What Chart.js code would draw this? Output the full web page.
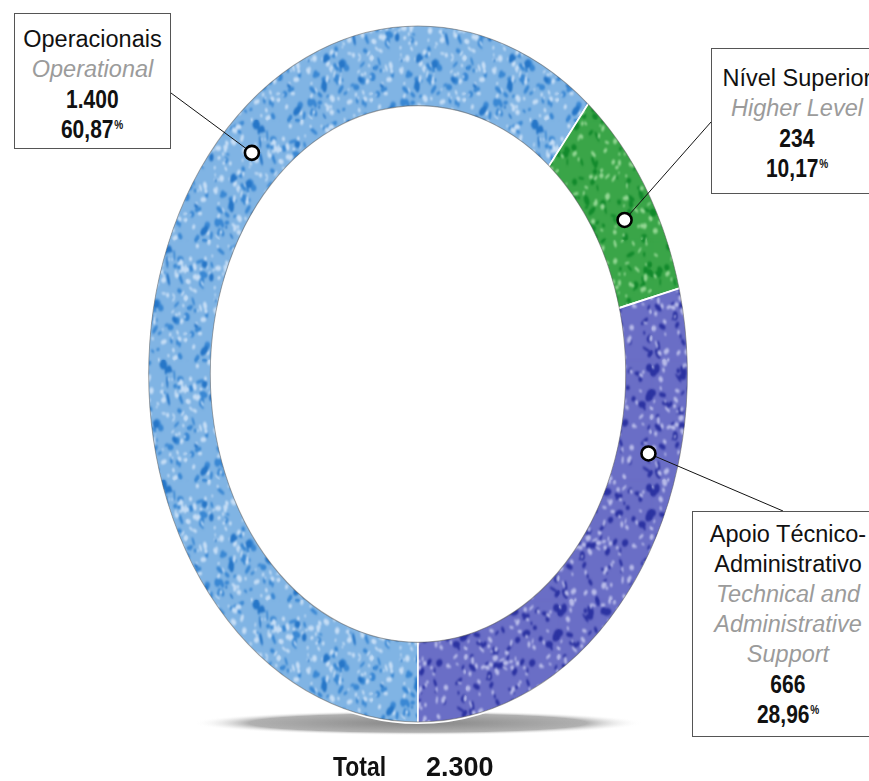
<!DOCTYPE html>
<html>
<head>
<meta charset="utf-8">
<script src="https://cdn.jsdelivr.net/npm/chart.js@4.4.1/dist/chart.umd.min.js"></script>
<style>
  html, body { margin: 0; padding: 0; background: #fff; }
  #wrap { position: relative; width: 869px; height: 781px; overflow: hidden;
          font-family: "Liberation Sans", Arial, sans-serif; }
  #ring { position: absolute; left: 0; top: 0; }
  .box { position: absolute; box-sizing: border-box; border: 1.5px solid #555;
         background: #fff; text-align: center; }
  .box div { height: 30px; line-height: 30px; white-space: nowrap; }
  .pt { font-size: 23.5px; color: #111; }
  .en { font-size: 23.5px; color: #9b9b9b; font-style: italic; }
  .num { font-weight: bold; font-size: 25px; color: #111; }
  .num span.nb { display: inline-block; transform: scaleX(0.84); transform-origin: 50% 50%; }
  .pc { font-size: 12px; position: relative; top: -9px; margin-left: 1px; }
  .total { position: absolute; top: 754px; height: 27px; line-height: 27px;
           font-weight: bold; font-size: 27px; color: #111; white-space: nowrap;
           transform-origin: 0 50%; }
</style>
</head>
<body>
<div id="wrap">
  <canvas id="ring" width="869" height="781"></canvas>
</div>
<script>
// Staff by category
const categoriesPt = [['Operacionais'], ['Nível Superior'], ['Apoio Técnico-', 'Administrativo']];
const categoriesEn = [['Operational'], ['Higher Level'], ['Technical and', 'Administrative', 'Support']];
const headcount = [1400, 234, 666];
const totalCaption = 'Total';

// Ring geometry and callout styling
const SCALE_X = 0.774;            // horizontal squeeze of the ring
const ringColors = [
  { base: '#80b4e4', spots: [['#3a88d4', 70, 4.5], ['#c6def6', 120, 3], ['#2676c8', 18, 6]] },
  { base: '#3aa548', spots: [['#128a2c', 60, 5], ['#92d692', 80, 3]] },
  { base: '#6a6ec6', spots: [['#2c33a2', 70, 5], ['#b8bbe9', 90, 3]] }
];
const callouts = [
  { box: { left: 14, top: 13, width: 157, height: 136, padTop: 10 }, anchor: [171, 93],  along: 0.62 },
  { box: { left: 711, top: 48, width: 172, height: 146, padTop: 14 }, anchor: [711, 122], along: 0.57 },
  { box: { left: 692, top: 511, width: 192, height: 226, padTop: 7 }, anchor: [783, 511], along: 0.28 }
];

function fmtThousands(n) {
  return String(n).replace(/\B(?=(\d{3})+(?!\d))/g, '.');
}
function fmtShare(v, total) {
  return (v / total * 100).toFixed(2).replace('.', ',');
}

const total = headcount.reduce((a, b) => a + b, 0);
const wrap = document.getElementById('wrap');

// Label boxes
callouts.forEach((c, i) => {
  const el = document.createElement('div');
  el.className = 'box';
  Object.assign(el.style, {
    left: c.box.left + 'px', top: c.box.top + 'px',
    width: c.box.width + 'px', height: c.box.height + 'px',
    paddingTop: c.box.padTop + 'px'
  });
  let html = '';
  categoriesPt[i].forEach(t => { html += '<div class="pt">' + t + '</div>'; });
  categoriesEn[i].forEach(t => { html += '<div class="en">' + t + '</div>'; });
  html += '<div class="num"><span class="nb">' + fmtThousands(headcount[i]) + '</span></div>';
  html += '<div class="num"><span class="nb">' + fmtShare(headcount[i], total) +
          '<span class="pc">%</span></span></div>';
  el.innerHTML = html;
  wrap.appendChild(el);
});

// Total line
const t1 = document.createElement('div');
t1.className = 'total'; t1.style.left = '333px'; t1.style.transform = 'scaleX(0.85)';
t1.textContent = totalCaption;
const t2 = document.createElement('div');
t2.className = 'total'; t2.style.left = '426px';
t2.textContent = fmtThousands(total);
wrap.appendChild(t1); wrap.appendChild(t2);

// Mottled fill for each slice
const mainCtx = document.getElementById('ring').getContext('2d');
function hash(n) {
  const s = Math.sin(n * 127.1 + 311.7) * 43758.5453;
  return s - Math.floor(s);
}
function texture(spec, seed) {
  const size = 120;
  const raw = document.createElement('canvas');
  raw.width = raw.height = size;
  const g = raw.getContext('2d');
  g.fillStyle = spec.base;
  g.fillRect(0, 0, size, size);
  let k = seed * 1000;
  spec.spots.forEach(([col, count, rmax]) => {
    g.fillStyle = col;
    for (let i = 0; i < count; i++) {
      const x = hash(k++) * size, y = hash(k++) * size;
      const rx = 1 + hash(k++) * rmax, ry = 1 + hash(k++) * rmax * 0.7;
      for (const ox of [-size, 0, size]) for (const oy of [-size, 0, size]) {
        g.beginPath();
        g.ellipse(x + ox, y + oy, rx, ry, hash(k) * Math.PI, 0, Math.PI * 2);
        g.fill();
      }
    }
  });
  const soft = document.createElement('canvas');
  soft.width = soft.height = size;
  const s = soft.getContext('2d');
  s.drawImage(raw, 0, 0);
  s.filter = 'blur(0.9px)';
  for (const ox of [-size, 0, size]) for (const oy of [-size, 0, size]) s.drawImage(raw, ox, oy);
  return mainCtx.createPattern(soft, 'repeat');
}
const fills = ringColors.map((c, i) => texture(c, i + 1));

// Squeezes the round doughnut into an upright oval and adds its floor shadow and rim
const ovalRing = {
  id: 'ovalRing',
  beforeDatasetsDraw(chart) {
    const ctx = chart.ctx;
    const arc = chart.getDatasetMeta(0).data[0];
    const { x, y, outerRadius } = arc;
    // floor shadow
    ctx.save();
    ctx.translate(x, y + outerRadius);
    ctx.scale(1, 0.055);
    const g = ctx.createRadialGradient(0, 0, 0, 0, 0, 225);
    g.addColorStop(0, 'rgba(120,120,120,0.9)');
    g.addColorStop(0.75, 'rgba(150,150,150,0.75)');
    g.addColorStop(1, 'rgba(255,255,255,0)');
    ctx.fillStyle = g;
    ctx.beginPath();
    ctx.arc(0, 0, 225, 0, Math.PI * 2);
    ctx.fill();
    ctx.restore();

    ctx.save();
    ctx.translate(x, y);
    ctx.scale(SCALE_X, 1);
    ctx.translate(-x, -y);
  },
  afterDatasetsDraw(chart) {
    const ctx = chart.ctx;
    const arc = chart.getDatasetMeta(0).data[0];
    const { x, y, outerRadius, innerRadius } = arc;
    ctx.strokeStyle = 'rgba(95,95,95,0.55)';
    ctx.lineWidth = 1.2;
    ctx.beginPath(); ctx.arc(x, y, outerRadius - 1, 0, Math.PI * 2); ctx.stroke();
    ctx.beginPath(); ctx.arc(x, y, innerRadius + 1, 0, Math.PI * 2); ctx.stroke();
    ctx.restore();
  },
  afterDraw(chart) {
    const ctx = chart.ctx;
    chart.getDatasetMeta(0).data.forEach((arc, i) => {
      const c = callouts[i];
      const { x, y, startAngle, endAngle, innerRadius, outerRadius } = arc;
      const a = startAngle + (endAngle - startAngle) * c.along;
      const r = (innerRadius + outerRadius) / 2;
      const px = x + Math.cos(a) * r * SCALE_X;
      const py = y + Math.sin(a) * r;
      ctx.save();
      ctx.strokeStyle = '#111';
      ctx.lineWidth = 1;
      ctx.beginPath(); ctx.moveTo(px, py); ctx.lineTo(c.anchor[0], c.anchor[1]); ctx.stroke();
      ctx.beginPath(); ctx.arc(px, py, 7, 0, Math.PI * 2);
      ctx.fillStyle = '#fff'; ctx.fill();
      ctx.lineWidth = 2.6; ctx.strokeStyle = '#000'; ctx.stroke();
      ctx.restore();
    });
  }
};

new Chart(document.getElementById('ring'), {
  type: 'doughnut',
  data: {
    labels: categoriesPt.map(l => l.join(' ')),
    datasets: [{
      data: headcount,
      backgroundColor: fills,
      borderColor: '#ffffff',
      borderWidth: 2
    }]
  },
  options: {
    responsive: false,
    animation: false,
    events: [],
    rotation: 180,
    cutout: '76.6%',
    layout: { padding: { left: 68, right: 101, top: 24, bottom: 57 } },
    plugins: { legend: { display: false }, tooltip: { enabled: false } }
  },
  plugins: [ovalRing]
});
</script>
</body>
</html>
